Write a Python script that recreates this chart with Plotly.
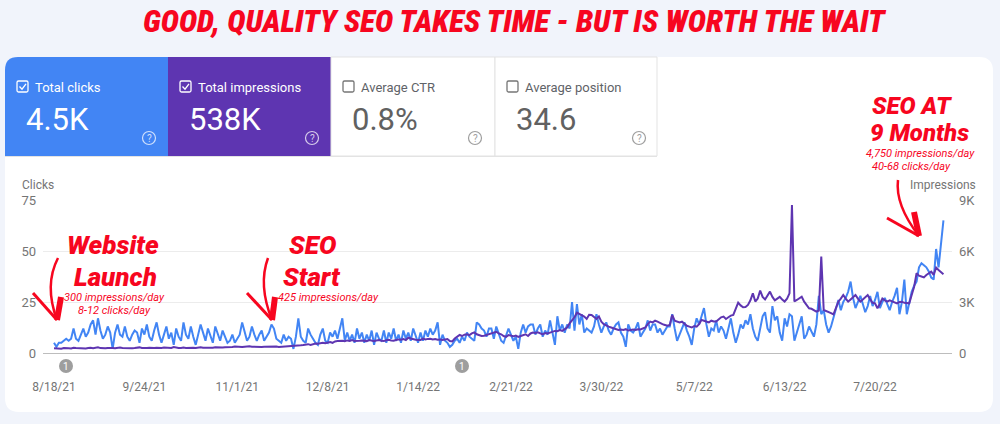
import plotly.graph_objects as go
import pandas as pd

# ---------------- data ----------------
start_date = "2021-08-18"

clicks = [
    5, 3, 5, 5, 6, 7, 6, 7, 12, 7, 6, 9, 12, 8,
    10, 14, 16, 9, 17, 11, 7, 9, 13, 10, 2, 10, 14, 9,
    8, 13, 8, 6, 9, 11, 10, 5, 12, 9, 14, 8, 6, 11,
    15, 9, 5, 9, 13, 7, 10, 4, 12, 8, 6, 15, 9, 7,
    13, 8, 4, 9, 14, 10, 6, 12, 8, 5, 13, 9, 6, 11,
    8, 5, 6, 9, 5, 7, 9, 15, 11, 6, 8, 13, 9, 6,
    9, 11, 6, 8, 10, 14, 12, 7, 6, 5, 9, 6, 8, 7,
    2, 8, 17, 8, 6, 5, 12, 9, 7, 5, 4, 9, 12, 6,
    5, 10, 8, 11, 7, 12, 17, 6, 10, 6, 9, 5, 12, 7,
    10, 5, 9, 6, 11, 4, 10, 7, 6, 11, 5, 10, 7, 12,
    6, 9, 5, 11, 7, 10, 6, 12, 8, 5, 10, 6, 11, 8,
    12, 9, 11, 15, 4, 9, 6, 5, 3, 4, 6, 7, 5, 8,
    6, 10, 8, 7, 6, 15, 14, 12, 11, 8, 12, 12, 7, 13,
    9, 6, 5, 8, 12, 9, 6, 8, 2, 10, 14, 10, 13, 14,
    14, 9, 12, 14, 8, 11, 9, 16, 10, 4, 18, 11, 14, 10,
    14, 12, 25, 11, 24, 14, 19, 10, 12, 11, 10, 13, 19, 14,
    10, 13, 15, 11, 9, 12, 14, 15, 10, 8, 3, 14, 11, 10,
    12, 15, 8, 10, 12, 16, 11, 14, 14, 10, 12, 9, 11, 13,
    13, 19, 12, 6, 9, 12, 15, 11, 8, 4, 12, 17, 14, 18,
    22, 14, 8, 12, 11, 16, 10, 13, 11, 7, 12, 17, 10, 5,
    9, 14, 12, 16, 14, 19, 12, 8, 6, 13, 18, 20, 12, 10,
    23, 16, 18, 10, 6, 17, 13, 19, 18, 6, 10, 15, 18, 7,
    9, 13, 10, 8, 14, 28, 19, 21, 14, 10, 13, 17, 22, 26,
    21, 25, 27, 30, 35, 27, 22, 25, 28, 24, 20, 23, 28, 23,
    26, 30, 22, 25, 27, 24, 21, 25, 28, 32, 19, 25, 36, 19,
    25, 30, 33, 35, 42, 44, 43, 42, 40, 37, 36, 51, 42, 52, 65,
]

impressions = [
    280, 260, 270, 250, 290, 300, 280, 270, 310, 290, 280, 300, 280, 270,
    290, 310, 280, 300, 340, 290, 270, 280, 300, 310, 290, 280, 300, 320,
    290, 280, 310, 300, 280, 290, 300, 330, 290, 280, 300, 310, 290, 300,
    310, 290, 300, 320, 300, 280, 300, 350, 310, 300, 290, 320, 300, 310,
    330, 310, 300, 320, 340, 310, 300, 330, 320, 310, 340, 330, 310, 320,
    340, 330, 320, 350, 380, 360, 340, 350, 370, 400, 390, 370, 360, 380,
    360, 350, 370, 380, 360, 370, 390, 380, 360, 370, 350, 380, 390, 370,
    380, 400, 420, 450, 470, 500, 520, 480, 530, 560, 540, 580, 600, 570,
    620, 650, 600, 680, 700, 730, 720, 690, 740, 710, 760, 700, 690, 720,
    740, 720, 700, 760, 730, 690, 740, 760, 720, 700, 750, 780, 740, 720,
    760, 800, 780, 820, 760, 900, 850, 800, 780, 760, 770, 850, 800, 830,
    840, 800, 820, 780, 800, 760, 790, 820, 700, 680, 850, 950, 1060, 1000,
    1080, 1100, 1050, 1150, 1215, 1100, 1050, 1000, 1020, 1060, 1100, 1150, 1200, 1250,
    1150, 1100, 1000, 950, 1050, 1000, 980, 1020, 950, 1000, 1050, 1100, 1000, 1150,
    1200, 1180, 1220, 1150, 1100, 1180, 1150, 1200, 1250, 1300, 1280, 1350, 1300, 1400,
    1500, 1750, 1900, 2100, 2370, 2300, 2200, 2140, 2000, 2250, 2240, 2100, 2000, 2150,
    1840, 1700, 1600, 1550, 1500, 1450, 1400, 1350, 1380, 1350, 1400, 1320, 1350, 1380,
    1350, 1400, 1380, 1450, 1500, 1700, 1850, 1800, 1900, 1850, 1750, 1700, 1650, 1600,
    1650, 2240, 1900, 1850, 1800, 1840, 1700, 1600, 1550, 1500, 1580, 1550, 1700, 1950,
    1900, 1850, 1800, 1900, 1850, 1850, 1950, 2100, 2140, 2000, 2100, 2200, 2240, 2600,
    2960, 2800, 2690, 2700, 2830, 3100, 3510, 3030, 3200, 3670, 3300, 3150, 3400, 3610,
    3300, 3100, 3200, 3300, 3150, 3030, 3200, 3510, 8700, 3030, 3120, 3200, 3310, 3020,
    2800, 2630, 2600, 2530, 2440, 2500, 5670, 2530, 2480, 2440, 2350, 2270, 2600, 3020,
    3200, 3410, 3200, 3020, 3150, 3300, 3410, 3200, 3020, 3150, 3300, 3410, 3150, 2950,
    2920, 2630, 2900, 3210, 3100, 3020, 3100, 3050, 3000, 2920, 3000, 3020, 2950, 2920,
    2920, 3410, 3900, 4690, 4550, 4500, 4450, 4590, 4700, 4790, 4600, 5020, 4880, 4750, 4630,
]

tick_dates = ["2021-08-18", "2021-09-24", "2021-11-01", "2021-12-08", "2022-01-14",
              "2022-02-21", "2022-03-30", "2022-05-07", "2022-06-13", "2022-07-20"]
tick_labels = ["8/18/21", "9/24/21", "11/1/21", "12/8/21", "1/14/22",
               "2/21/22", "3/30/22", "5/7/22", "6/13/22", "7/20/22"]
left_ticks = [0, 25, 50, 75]
right_ticks = [0, 3000, 6000, 9000]
right_tick_labels = ["0", "3K", "6K", "9K"]

card_labels = ["Total clicks", "Total impressions", "Average CTR", "Average position"]
card_values = ["4.5K", "538K", "0.8%", "34.6"]
card_checked = [True, True, False, False]

title_text = "GOOD, QUALITY SEO TAKES TIME - BUT IS WORTH THE WAIT"

# ---------------- geometry helpers ----------------
W, H = 1000, 424
L, R, T, B = 43, 952, 200, 353


def fx(x):
    return (x - L) / (R - L)


def fy(y):
    return (B - y) / (B - T)


def P(x, y):
    return f"{fx(x):.5f},{fy(y):.5f}"


def rrect(x0, y0, x1, y1, tl=0, tr=0, br=0, bl=0):
    return (f"M {P(x0 + tl, y0)} L {P(x1 - tr, y0)} Q {P(x1, y0)} {P(x1, y0 + tr)} "
            f"L {P(x1, y1 - br)} Q {P(x1, y1)} {P(x1 - br, y1)} "
            f"L {P(x0 + bl, y1)} Q {P(x0, y1)} {P(x0, y1 - bl)} "
            f"L {P(x0, y0 + tl)} Q {P(x0, y0)} {P(x0 + tl, y0)} Z")


RED = "#f7061f"
BLUE = "#4285f4"
PURPLE = "#5e35b1"
GRAY = "#757575"
FONT = "Roboto, Arial, sans-serif"

dates = pd.date_range(start_date, periods=len(clicks), freq="D")
x0_date = pd.Timestamp(start_date) - pd.Timedelta(hours=4.5 * 24)
x1_date = pd.Timestamp(start_date) + pd.Timedelta(hours=367.5 * 24)

fig = go.Figure()
fig.add_trace(go.Scatter(x=dates, y=impressions, yaxis="y2", mode="lines",
                         line=dict(color=PURPLE, width=2), name="Impressions",
                         hoverinfo="skip"))
fig.add_trace(go.Scatter(x=dates, y=clicks, mode="lines",
                         line=dict(color=BLUE, width=2), name="Clicks",
                         hoverinfo="skip"))

shapes = []


def add_path(path, **kw):
    d = dict(type="path", path=path, xref="paper", yref="paper")
    d.update(kw)
    shapes.append(d)


# white panel
add_path(rrect(5, 57, 993, 412, 14, 14, 14, 14), fillcolor="white", line=dict(width=0), layer="below")
# cards
add_path(rrect(5, 57, 168, 156, 13, 0, 0, 0), fillcolor=BLUE, line=dict(width=0), layer="below")
add_path(rrect(168, 57, 331, 156), fillcolor=PURPLE, line=dict(width=0), layer="below")
for xa, xb in [(331, 495), (495, 657)]:
    add_path(rrect(xa, 57, xb, 156), fillcolor="white", line=dict(color="#e3e3e3", width=1), layer="below")
add_path(f"M {P(5, 156.5)} L {P(657, 156.5)}", line=dict(color="#e3e3e3", width=1), layer="below")

card_x = [5, 168, 331, 495]
for i in range(4):
    cx = card_x[i]
    col = "white" if card_checked[i] else "#757575"
    add_path(rrect(cx + 12, 81, cx + 23, 92, 1.5, 1.5, 1.5, 1.5),
             line=dict(color=col, width=1.3), fillcolor="rgba(0,0,0,0)")
    if card_checked[i]:
        add_path(f"M {P(cx + 14.5, 86.5)} L {P(cx + 17, 89.2)} L {P(cx + 21, 83.8)}",
                 line=dict(color="white", width=1.3))
    qc = "rgba(255,255,255,0.75)" if card_checked[i] else "#9e9e9e"
    qx = cx + 144
    shapes.append(dict(type="circle", xref="paper", yref="paper",
                       x0=fx(qx - 6.5), x1=fx(qx + 6.5), y0=fy(138 + 6.5), y1=fy(138 - 6.5),
                       line=dict(color=qc, width=1.2)))
    fig.add_annotation(x=fx(qx), y=fy(138.5), xref="paper", yref="paper", text="?",
                       showarrow=False, xanchor="center", yanchor="middle",
                       font=dict(family=FONT, size=10, color=qc))
    fig.add_annotation(x=fx(cx + 28), y=fy(87), xref="paper", yref="paper",
                       text=card_labels[i], showarrow=False, xanchor="left", yanchor="middle",
                       font=dict(family=FONT, size=13, color="white" if card_checked[i] else "#5f6368"))
    fig.add_annotation(x=fx(cx + 19), y=fy(119), xref="paper", yref="paper",
                       text=card_values[i], showarrow=False, xanchor="left", yanchor="middle",
                       font=dict(family=FONT, size=31, color="white" if card_checked[i] else "#616161"))

# annotation markers "1"
for mx in [66, 462]:
    shapes.append(dict(type="circle", xref="paper", yref="paper",
                       x0=fx(mx - 7), x1=fx(mx + 7), y0=fy(366 + 7), y1=fy(366 - 7),
                       fillcolor="#9e9e9e", line=dict(width=0)))
    fig.add_annotation(x=fx(mx), y=fy(366), xref="paper", yref="paper", text="1",
                       showarrow=False, xanchor="center", yanchor="middle",
                       font=dict(family=FONT, size=10, color="white"))


# red hand-drawn arrows
def arrow(shaft, thick, wing):
    (sx, sy), (cx_, cy_), (tx, ty) = shaft
    add_path(f"M {P(sx, sy)} Q {P(cx_, cy_)} {P(tx, ty)}", line=dict(color=RED, width=2.5))
    add_path(f"M {P(*thick)} L {P(tx, ty)}", line=dict(color=RED, width=6))
    add_path(f"M {P(*wing)} L {P(tx, ty)}", line=dict(color=RED, width=3))


arrow([(58, 258), (44, 285), (57, 320)], (61, 297), (33, 293))
arrow([(268, 258), (258, 285), (272, 320)], (275, 297), (247, 293))
arrow([(898, 180), (895, 205), (919, 236)], (914, 212), (887, 218))

# red annotation texts
BIG = dict(family=FONT, size=26, color=RED, weight=900, style="italic")
BIG_R = dict(family=FONT, size=24, color=RED, weight=900, style="italic")
SMALL = dict(family=FONT, size=11, color=RED, style="italic")
fig.add_annotation(x=fx(113), y=fy(245), xref="paper", yref="paper", text="Website",
                   showarrow=False, xanchor="center", yanchor="middle", font=BIG)
fig.add_annotation(x=fx(115), y=fy(277), xref="paper", yref="paper", text="Launch",
                   showarrow=False, xanchor="center", yanchor="middle", font=BIG)
fig.add_annotation(x=fx(114), y=fy(297), xref="paper", yref="paper", text="300 impressions/day",
                   showarrow=False, xanchor="center", yanchor="middle", font=SMALL)
fig.add_annotation(x=fx(114), y=fy(310), xref="paper", yref="paper", text="8-12 clicks/day",
                   showarrow=False, xanchor="center", yanchor="middle", font=SMALL)
fig.add_annotation(x=fx(313), y=fy(245), xref="paper", yref="paper", text="SEO",
                   showarrow=False, xanchor="center", yanchor="middle", font=BIG)
fig.add_annotation(x=fx(312), y=fy(277), xref="paper", yref="paper", text="Start",
                   showarrow=False, xanchor="center", yanchor="middle", font=BIG)
fig.add_annotation(x=fx(328), y=fy(297), xref="paper", yref="paper", text="425 impressions/day",
                   showarrow=False, xanchor="center", yanchor="middle", font=SMALL)
fig.add_annotation(x=fx(912), y=fy(106), xref="paper", yref="paper", text="SEO AT",
                   showarrow=False, xanchor="center", yanchor="middle", font=BIG_R)
fig.add_annotation(x=fx(919), y=fy(133), xref="paper", yref="paper", text="9 Months",
                   showarrow=False, xanchor="center", yanchor="middle", font=BIG_R)
fig.add_annotation(x=fx(920), y=fy(153), xref="paper", yref="paper", text="4,750 impressions/day",
                   showarrow=False, xanchor="center", yanchor="middle", font=SMALL)
fig.add_annotation(x=fx(911), y=fy(166), xref="paper", yref="paper", text="40-68 clicks/day",
                   showarrow=False, xanchor="center", yanchor="middle", font=SMALL)

# title
fig.add_annotation(x=fx(515), y=fy(21), xref="paper", yref="paper", text=title_text,
                   showarrow=False, xanchor="center", yanchor="middle",
                   font=dict(family="'Liberation Sans Narrow', 'Roboto Condensed', Roboto, sans-serif",
                             size=31, color=RED, weight=900, style="italic"))

# axis titles
fig.add_annotation(x=fx(20), y=fy(185), xref="paper", yref="paper", text="Clicks",
                   showarrow=False, xanchor="left", yanchor="middle",
                   font=dict(family=FONT, size=12, color=GRAY))
fig.add_annotation(x=fx(978), y=fy(185), xref="paper", yref="paper", text="Impressions",
                   showarrow=False, xanchor="right", yanchor="middle",
                   font=dict(family=FONT, size=12, color=GRAY))

fig.update_layout(
    width=W, height=H,
    margin=dict(l=L, r=W - R, t=T, b=H - B, pad=0),
    paper_bgcolor="#f1f4fb",
    plot_bgcolor="rgba(0,0,0,0)",
    showlegend=False,
    shapes=shapes,
    xaxis=dict(type="date", range=[x0_date, x1_date], tickvals=tick_dates, ticktext=tick_labels,
               showgrid=False, zeroline=False, showline=True, linecolor="#bdbdbd", linewidth=1.2,
               ticks="", ticklabelstandoff=22,
               tickfont=dict(family=FONT, size=12, color=GRAY), fixedrange=True),
    yaxis=dict(range=[0, 75], tickvals=left_ticks, showgrid=True, gridcolor="#ececec",
               gridwidth=1, zeroline=False, ticks="", ticklabelstandoff=6,
               tickfont=dict(family=FONT, size=13, color=GRAY), fixedrange=True),
    yaxis2=dict(range=[0, 9000], tickvals=right_ticks, ticktext=right_tick_labels,
                overlaying="y", side="right", showgrid=False, zeroline=False, ticks="",
                ticklabelstandoff=6,
                tickfont=dict(family=FONT, size=13, color=GRAY), fixedrange=True),
)

fig.write_html("out.html")
